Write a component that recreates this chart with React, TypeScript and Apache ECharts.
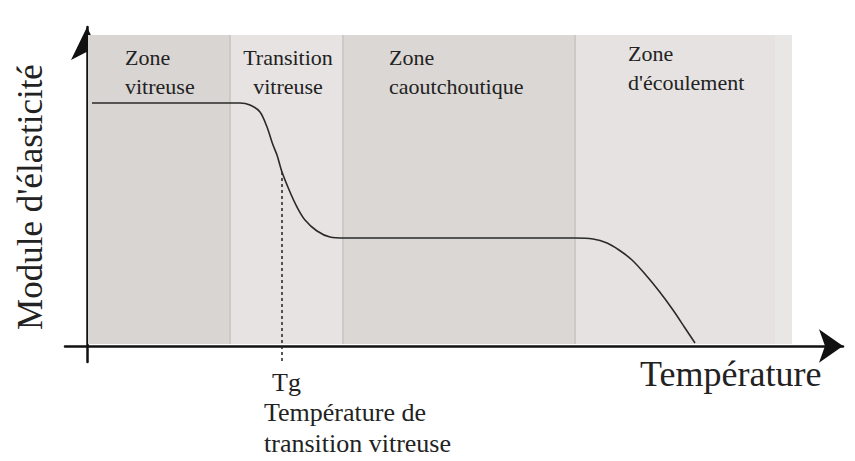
import React, { useEffect, useRef } from "react";
import * as echarts from "echarts";

// Temperature (arbitrary units, y-axis at 0) and elastic modulus (arbitrary units, x-axis at 0)
const temperature = [5, 153, 163, 173, 180, 186, 190, 195, 203, 210, 218, 230, 243, 258, 488, 506, 520, 532, 545, 558, 572, 586, 598, 608];
const modulus = [243, 243, 241, 234, 219, 201, 191, 174, 154, 139, 126, 115, 109, 108, 108, 107, 103, 96, 86, 72, 55, 36, 18, 3];

const zoneLines = [
  ["Zone", "vitreuse"],
  ["Transition", "vitreuse"],
  ["Zone", "caoutchoutique"],
  ["Zone", "d'écoulement"],
];
const zoneStart = [1, 143, 256, 488];
const zoneEnd = [143, 256, 488, 705];
const zoneBottom = 2;
const zoneTop = 311;
const flowFadeStart = 688;

const tg = 195;
const tgModulus = 174;

const axisMinX = -22;
const axisMaxX = 756;
const axisMinY = -16;
const axisMaxY = 319;

const zoneColors = ["#d9d5d3", "#e6e3e2", "#dbd7d5", "#e5e2e1"];
const FONT = "Liberation Serif";

export default function App() {
  const ref = useRef<HTMLDivElement>(null);

  useEffect(() => {
    if (!ref.current) return;
    const chart = echarts.init(ref.current, undefined, { renderer: "svg" });

    const areas: any[] = zoneStart.map((s, i) => [
      { coord: [s, zoneBottom], itemStyle: { color: zoneColors[i] } },
      { coord: [zoneEnd[i], zoneTop] },
    ]);
    areas.push([
      { coord: [flowFadeStart, zoneBottom], itemStyle: { color: "#e9e7e6" } },
      { coord: [zoneEnd[3], zoneTop] },
    ]);

    const borders = zoneEnd.slice(0, 3).map((x) => [
      { coord: [x, zoneBottom] },
      { coord: [x, zoneTop] },
    ]);

    const txt = (text: string, x: number, y: number, size: number, align = "left") => ({
      type: "text",
      x,
      y,
      style: {
        text,
        fontSize: size,
        fontFamily: FONT,
        fill: "#222",
        textAlign: align,
        textVerticalAlign: "middle",
      },
      z: 10,
    });

    const zoneTextPos: [number, number, string][] = [
      [125, 57, "left"],
      [288, 57, "center"],
      [389, 57, "left"],
      [628, 53, "left"],
    ];

    const zoneTexts: any[] = [];
    zoneLines.forEach((lines, i) => {
      const [x, y, a] = zoneTextPos[i];
      lines.forEach((l, j) => zoneTexts.push(txt(l, x, y + j * 29, 22, a)));
    });

    chart.setOption({
      animation: false,
      backgroundColor: "#ffffff",
      grid: { left: 65, right: 12, top: 27, bottom: 99 },
      xAxis: {
        type: "value",
        min: axisMinX,
        max: axisMaxX,
        axisLine: {
          onZero: true,
          symbol: ["none", "arrow"],
          symbolSize: [25, 24],
          lineStyle: { color: "#111", width: 2.5 },
        },
        axisTick: { show: false },
        axisLabel: { show: false },
        splitLine: { show: false },
      },
      yAxis: {
        type: "value",
        min: axisMinY,
        max: axisMaxY,
        axisLine: {
          show: true,
          onZero: true,
          symbol: ["none", "arrow"],
          symbolSize: [24, 33],
          lineStyle: { color: "#111", width: 2.5 },
        },
        axisTick: { show: false },
        axisLabel: { show: false },
        splitLine: { show: false },
      },
      series: [
        {
          type: "line",
          data: [],
          z: 1,
          silent: true,
          markArea: { silent: true, data: areas },
          markLine: {
            silent: true,
            symbol: ["none", "none"],
            label: { show: false },
            lineStyle: { color: "#cdc9c7", width: 2, type: "solid" },
            data: borders,
          },
        },
        {
          type: "line",
          z: 5,
          data: temperature.map((t, i) => [t, modulus[i]]),
          showSymbol: false,
          smooth: 0.3,
          lineStyle: { color: "#2a2a2a", width: 1.6 },
          markLine: {
            silent: true,
            symbol: ["none", "none"],
            label: { show: false },
            lineStyle: { color: "#222", width: 1.5, type: [3, 3] },
            data: [[{ coord: [tg, tgModulus] }, { coord: [tg, axisMinY] }]],
          },
        },
      ],
      graphic: [
        ...zoneTexts,
        {
          type: "text",
          x: 30,
          y: 197,
          rotation: Math.PI / 2,
          style: {
            text: "Module d'élasticité",
            fontSize: 35,
            fontFamily: FONT,
            fill: "#222",
            textAlign: "center",
            textVerticalAlign: "middle",
          },
        },
        txt("Température", 640, 374, 36),
        txt("Tg", 272, 382, 26),
        txt("Température de", 264, 412, 26),
        txt("transition vitreuse", 264, 443, 26),
      ],
    });

    return () => chart.dispose();
  }, []);

  return (
    <div
      ref={ref}
      style={{ position: "fixed", left: 0, top: 0, width: 855, height: 461, background: "#fff" }}
    />
  );
}
